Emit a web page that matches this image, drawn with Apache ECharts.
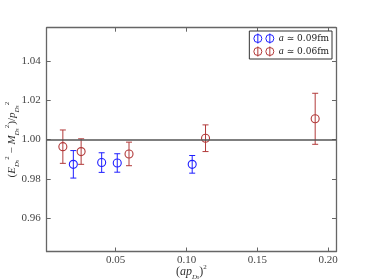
<!DOCTYPE html>
<html><head><meta charset="utf-8">
<script src="https://cdn.jsdelivr.net/npm/echarts@6/dist/echarts.min.js"></script>
<style>html,body{margin:0;padding:0;background:#fff}#c{width:374px;height:280px}</style>
</head><body><div id="c"></div>
<script>
const xTicks = [0.05, 0.10, 0.15, 0.20];
const yTicks = [0.96, 0.98, 1.00, 1.02, 1.04];
const coarseName = 'a ≃ 0.09fm';
const coarseX = [0.0201, 0.0401, 0.0511, 0.1040];
const coarseY = [0.9874, 0.9883, 0.9881, 0.9874];
const coarseErr = [0.0070, 0.0050, 0.0047, 0.0045];
const fineName = 'a ≃ 0.06fm';
const fineX = [0.0127, 0.0256, 0.0594, 0.1134, 0.1908];
const fineY = [0.9964, 0.9939, 0.9927, 1.0007, 1.0106];
const fineErr = [0.0085, 0.0065, 0.0060, 0.0068, 0.0130];
const refLine = [1.0];

const BLUE = '#1f1fff', RED = '#b23a3a', FRAME = '#666', TXT = '#444';
const FONT = 'Liberation Serif';
const xMin = 0.0013, xMax = 0.2055, yMin = 0.943, yMax = 1.057;

function rows(xs, ys, es) { return xs.map((x, i) => [x, ys[i], es[i]]); }
function renderItem(color) {
  return function (params, api) {
    const x = api.value(0), y = api.value(1), e = api.value(2);
    const c = api.coord([x, y]), t = api.coord([x, y + e]), b = api.coord([x, y - e]);
    const cap = 3, r = 4;
    const st = { stroke: color, lineWidth: 1, fill: null };
    return { type: 'group', children: [
      { type: 'line', shape: { x1: c[0], y1: t[1], x2: c[0], y2: b[1] }, style: st },
      { type: 'line', shape: { x1: c[0] - cap, y1: t[1], x2: c[0] + cap, y2: t[1] }, style: st },
      { type: 'line', shape: { x1: c[0] - cap, y1: b[1], x2: c[0] + cap, y2: b[1] }, style: st },
      { type: 'circle', shape: { cx: c[0], cy: c[1], r: r }, style: { stroke: color, lineWidth: 1.1, fill: 'rgba(0,0,0,0)' } }
    ]};
  };
}
const icon = 'path://M0,5A4,4 0 1 1 8,5A4,4 0 1 1 0,5ZM4,0L4,10M12,5A4,4 0 1 1 20,5A4,4 0 1 1 12,5ZM16,0L16,10';
const tickStyle = { show: true, inside: true, length: 4, lineStyle: { color: FRAME, width: 1 } };
const lineStyle = { show: true, onZero: false, lineStyle: { color: FRAME, width: 1.3 } };
function rich(base) {
  return {
    n: { fontFamily: FONT, fontSize: base, fontStyle: 'italic', color: '#333', verticalAlign: 'middle', lineHeight: 17 },
    r: { fontFamily: FONT, fontSize: base, color: '#333', verticalAlign: 'middle', lineHeight: 17 },
    sub: { fontFamily: FONT, fontSize: 7, fontStyle: 'italic', color: '#333', verticalAlign: 'bottom', lineHeight: 17 },
    ss: { fontFamily: FONT, fontSize: 5.5, fontStyle: 'italic', color: '#333', verticalAlign: 'bottom', lineHeight: 15 },
    sup: { fontFamily: FONT, fontSize: 7, color: '#333', verticalAlign: 'top', lineHeight: 17 }
  };
}

const chart = echarts.init(document.getElementById('c'), null, { renderer: 'canvas' });
chart.setOption({
  animation: false,
  backgroundColor: '#fff',
  grid: { left: 46.7, top: 27.7, right: 38, bottom: 28.5, containLabel: false, outerBoundsMode: 'none' },
  xAxis: [
    { type: 'value', position: 'bottom', min: xMin, max: xMax,
      axisLine: lineStyle, axisTick: Object.assign({ customValues: xTicks }, tickStyle),
      axisLabel: { customValues: xTicks, formatter: v => v.toFixed(2), color: TXT, fontFamily: FONT, fontSize: 11, margin: 3 },
      splitLine: { show: false },
      name: '{r|(}{n|ap}{sub|D}{ss|s}{r|)}{sup|2}', nameLocation: 'middle', nameGap: 12, nameMoveOverlap: false,
      nameTextStyle: { rich: rich(12) } },
    { type: 'value', position: 'top', min: xMin, max: xMax,
      axisLine: lineStyle, axisTick: Object.assign({ customValues: xTicks }, tickStyle),
      axisLabel: { show: false }, splitLine: { show: false } }
  ],
  yAxis: [
    { type: 'value', position: 'left', min: yMin, max: yMax,
      axisLine: lineStyle, axisTick: Object.assign({ customValues: yTicks }, tickStyle),
      axisLabel: { customValues: yTicks, formatter: v => v.toFixed(2), color: TXT, fontFamily: FONT, fontSize: 11, margin: 6 },
      splitLine: { show: false },
      name: '{r|(}{n|E}{sub|D}{ss|s}{sup|2}{r| − }{n|M}{sub|D}{ss|s}{sup|2}{r|)/}{n|p}{sub|D}{ss|s}{sup|2}',
      nameLocation: 'middle', nameRotate: 90, nameGap: 26, nameMoveOverlap: false,
      nameTextStyle: { rich: rich(11) } },
    { type: 'value', position: 'right', min: yMin, max: yMax,
      axisLine: lineStyle, axisTick: Object.assign({ customValues: yTicks }, tickStyle),
      axisLabel: { show: false }, splitLine: { show: false } }
  ],
  legend: {
    orient: 'vertical', right: 42, top: 31,
    data: [
      { name: coarseName, icon: icon, itemStyle: { color: 'rgba(0,0,0,0)', borderColor: BLUE, borderWidth: 1 } },
      { name: fineName, icon: icon, itemStyle: { color: 'rgba(0,0,0,0)', borderColor: RED, borderWidth: 1 } }
    ],
    itemWidth: 20, itemHeight: 10, itemGap: 2, padding: [2, 3, 2, 4],
    borderColor: '#333', borderWidth: 1, backgroundColor: '#fff',
    formatter: n => '{i|a}{t|' + n.slice(1) + '}',
    textStyle: { rich: {
      i: { fontFamily: FONT, fontSize: 10, fontStyle: 'italic', color: '#222' },
      t: { fontFamily: 'DejaVu Serif', fontSize: 9, color: '#222' } } }
  },
  series: [
    { name: coarseName, type: 'custom', xAxisIndex: 0, yAxisIndex: 0,
      itemStyle: { color: BLUE }, renderItem: renderItem(BLUE),
      data: rows(coarseX, coarseY, coarseErr), encode: { x: 0, y: 1 }, z: 3,
      markLine: { silent: true, symbol: 'none', label: { show: false },
        lineStyle: { color: '#555', width: 1.5, type: 'solid' },
        data: refLine.map(v => ({ yAxis: v })) } },
    { name: fineName, type: 'custom', xAxisIndex: 0, yAxisIndex: 0,
      itemStyle: { color: RED }, renderItem: renderItem(RED),
      data: rows(fineX, fineY, fineErr), encode: { x: 0, y: 1 }, z: 3 }
  ]
});
</script></body></html>
